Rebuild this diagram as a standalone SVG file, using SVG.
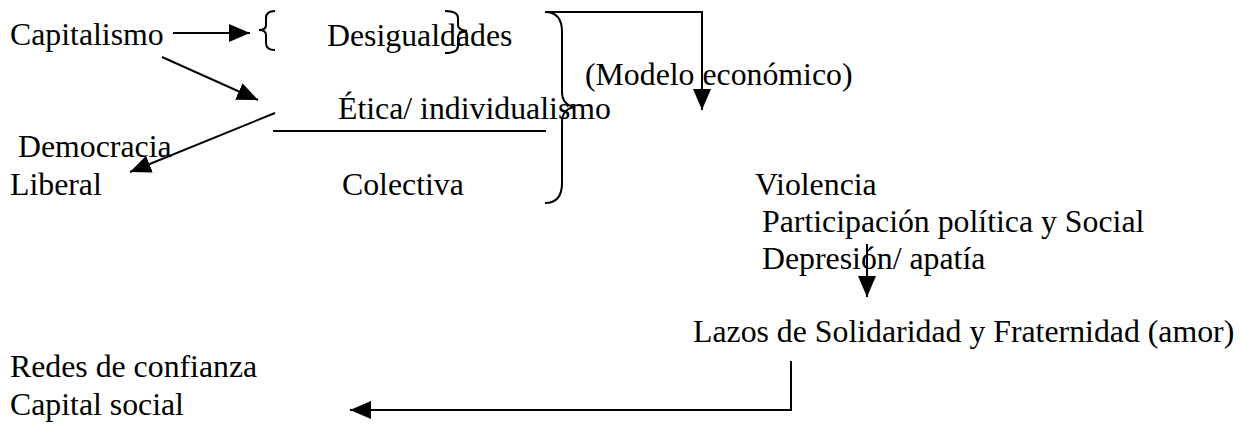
<svg xmlns="http://www.w3.org/2000/svg" width="1242" height="425" viewBox="0 0 1242 425">
<style>
text{font-family:"Liberation Serif","Times New Roman",serif;font-size:31.8px;fill:#000}
.ln{stroke:#000;stroke-width:2;fill:none}
.ar{stroke:#000;stroke-width:2;fill:none;marker-end:url(#ah)}
</style>
<defs>
<marker id="ah" markerUnits="userSpaceOnUse" markerWidth="22" markerHeight="18" refX="21" refY="9" orient="auto">
<path d="M0,0 L21,9 L0,18 z" fill="#000"/>
</marker>
</defs>
<rect width="1242" height="425" fill="#fff"/>
<g id="n-capitalismo"><text x="10" y="45">Capitalismo</text></g>
<g id="n-desigualdades"><text x="327" y="46">Desigualdades</text></g>
<g id="n-modelo"><text x="585" y="85">(Modelo económico)</text></g>
<g id="n-etica"><text x="338" y="119">Ética/ individualismo</text></g>
<g id="n-democracia"><text x="18" y="157">Democracia</text><text x="10" y="195">Liberal</text></g>
<g id="n-colectiva"><text x="342" y="195">Colectiva</text></g>
<g id="n-violencia"><text x="755" y="195">Violencia</text><text x="762" y="232">Participación política y Social</text><text x="762" y="269">Depresión/ apatía</text></g>
<g id="n-lazos"><text x="693" y="342">Lazos de Solidaridad y Fraternidad (amor)</text></g>
<g id="n-redes"><text x="10" y="377">Redes de confianza</text><text x="10" y="415">Capital social</text></g>
<g id="braces">
<path class="ln" d="M275,11 Q266,11 266,18 L266,25 Q266,30 259,30 Q266,30 266,35 L266,43 Q266,50 275,50"/>
<path class="ln" d="M445,11 Q458,11 458,18 L458,25 Q458,30 467,31 Q458,32 458,37 L458,46 Q458,53 445,53"/>
<path class="ln" d="M545,12 Q562,12 562,32 L562,92 Q562,105 575,107 Q562,109 562,122 L562,183 Q562,203 545,203"/>
<line class="ln" x1="273" y1="131" x2="546" y2="131"/>
</g>
<g id="connectors">
<line class="ar" x1="173" y1="33" x2="250" y2="33"/>
<line class="ar" x1="162" y1="57" x2="258" y2="100"/>
<line class="ar" x1="275" y1="113" x2="130" y2="172"/>
<polyline class="ar" points="545,12 702,12 702,110"/>
<line class="ar" x1="867" y1="244" x2="867" y2="297"/>
<polyline class="ar" points="791,361 791,410 350,410"/>
</g>
</svg>
